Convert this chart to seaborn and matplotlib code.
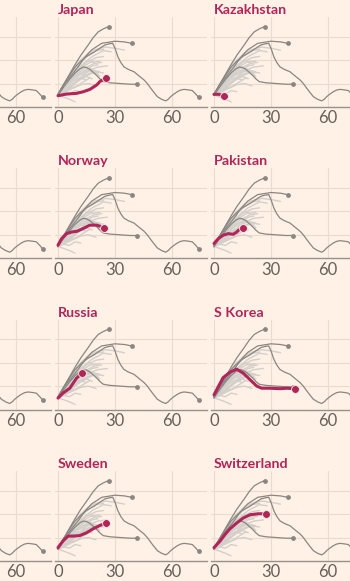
import matplotlib
matplotlib.use("Agg")
import matplotlib.pyplot as plt
import matplotlib.transforms as mtrans
import numpy as np
import pandas as pd
import seaborn as sns

# ---------------- data (days since start, log10 units) ----------------
# dark grey reference lines (drawn in every panel)
ref1_day = [0, 4, 8.8, 12, 15.9, 18.5, 21.2, 24, 26.6]
ref1_val = [0.55, 1.1, 1.78, 2.2, 2.64, 2.95, 3.2, 3.33, 3.42]
ref2_day = [0, 3, 6.5, 10.7, 14, 17.7, 23, 30, 35, 38.8]
ref2_val = [0.55, 0.95, 1.3, 1.72, 2.1, 2.43, 2.71, 2.8, 2.77, 2.71]
ref3_day = [0, 3, 6.3, 9, 11.6, 13.3, 15, 16.8, 18.5, 20.4, 22, 23.8, 27.4, 32.6, 37.9, 41.6]
ref3_val = [0.5, 0.85, 1.2, 1.45, 1.63, 1.7, 1.68, 1.6, 1.48, 1.34, 1.2, 1.08, 1.03, 1.0, 0.97, 0.97]
ref4_day = [0, 3, 6, 9, 12, 15, 19.3, 22, 24.7, 27, 28.8, 30, 31.5, 33, 34.7, 37, 40, 43, 45.3, 47,
            48.8, 50.5, 52.3, 54.5, 56.7, 58, 59.3, 61, 62.8, 64.5, 66.3, 68.5, 70.7, 72.5, 74]
ref4_val = [0.5, 0.95, 1.35, 1.7, 1.95, 2.15, 2.35, 2.5, 2.64, 2.69, 2.71, 2.5, 2.14, 1.9, 1.71, 1.6,
            1.5, 1.3, 1.15, 1.0, 0.8, 0.62, 0.44, 0.33, 0.26, 0.33, 0.44, 0.55, 0.65, 0.72, 0.75,
            0.73, 0.7, 0.55, 0.41]

# light grey lines (other countries)
g01_day = [0, 4, 8, 12, 16, 20, 25, 30, 35]
g01_val = [0.5, 1.1, 1.6, 2.0, 2.3, 2.45, 2.55, 2.5, 2.42]
g02_day = [0, 4, 8, 12, 16, 20, 24]
g02_val = [0.5, 1.05, 1.5, 1.9, 2.2, 2.4, 2.45]
g03_day = [0, 5, 10, 15, 20, 24]
g03_val = [0.5, 1.05, 1.55, 1.9, 2.1, 2.15]
g04_day = [0, 3, 7, 12, 17, 22]
g04_val = [0.5, 0.85, 1.25, 1.65, 1.9, 1.95]
g05_day = [0, 4, 8, 13, 18, 21]
g05_val = [0.5, 0.9, 1.25, 1.5, 1.75, 1.8]
g06_day = [0, 5, 10, 14, 19, 24]
g06_val = [0.5, 0.8, 1.1, 1.35, 1.5, 1.45]
g07_day = [0, 3, 7, 11, 15, 18]
g07_val = [0.5, 0.7, 0.95, 1.15, 1.3, 1.2]
g08_day = [0, 4, 8, 12, 16, 20]
g08_val = [0.5, 0.65, 0.8, 0.95, 1.0, 0.9]
g09_day = [0, 3, 6, 9]
g09_val = [0.5, 0.42, 0.33, 0.22]
g10_day = [0, 5, 9, 13, 16, 19]
g10_val = [0.5, 1.0, 1.4, 1.8, 2.0, 1.9]
g11_day = [0, 6, 11, 16, 21, 26]
g11_val = [0.5, 0.85, 1.2, 1.55, 1.7, 1.75]
g12_day = [0, 4, 9, 14, 18, 22]
g12_val = [0.5, 1.0, 1.45, 1.7, 1.6, 1.3]
g13_day = [0, 5, 10, 14, 17]
g13_val = [0.5, 0.75, 0.9, 1.1, 1.25]
g14_day = [0, 6, 12, 18, 24, 28]
g14_val = [0.5, 1.15, 1.75, 2.15, 2.4, 2.35]
g15_day = [0, 3, 6, 9, 12]
g15_val = [0.5, 0.6, 0.55, 0.7, 0.65]
g16_day = [0, 4, 9, 14, 19, 23]
g16_val = [0.5, 0.95, 1.35, 1.65, 1.85, 1.9]
g17_day = [0, 6, 12, 17, 22]
g17_val = [0.5, 1.0, 1.45, 1.6, 1.5]
g18_day = [0, 3, 7, 10, 14, 18, 21]
g18_val = [0.5, 0.8, 1.15, 1.3, 1.45, 1.55, 1.4]
g19_day = [0, 5, 9, 13, 17, 20]
g19_val = [0.5, 0.7, 1.0, 1.25, 1.4, 1.5]
g20_day = [0, 4, 8, 11, 15]
g20_val = [0.5, 0.85, 1.1, 1.25, 1.15]

# highlighted countries
japan_day = [0, 4.4, 9.7, 13.3, 16.8, 20.4, 22, 25.5]
japan_val = [0.48, 0.55, 0.58, 0.65, 0.75, 0.94, 1.08, 1.25]
kazakh_day = [0, 2.6, 5.3]
kazakh_val = [0.54, 0.54, 0.47]
norway_day = [0, 1.9, 4.5, 7.2, 10, 13.3, 16.7, 20.4, 22, 24.4]
norway_val = [0.56, 0.84, 1.05, 1.12, 1.15, 1.27, 1.41, 1.41, 1.37, 1.31]
pakistan_day = [0, 2.3, 4.8, 7.5, 10.1, 12, 13, 15.1]
pakistan_val = [0.63, 0.84, 0.98, 1.05, 1.02, 1.12, 1.2, 1.27]
russia_day = [0, 2.6, 6.2, 9.7, 12.8]
russia_val = [0.49, 0.7, 0.91, 1.33, 1.57]
skorea_day = [0, 2.3, 4.8, 8.4, 11.9, 15.4, 19, 22.5, 25.1, 29.5, 34.7, 38.3, 42.6]
skorea_val = [0.63, 0.98, 1.36, 1.59, 1.72, 1.55, 1.27, 1.0, 0.91, 0.91, 0.89, 0.91, 0.89]
sweden_day = [0, 2.6, 5.3, 7.9, 11.4, 15, 18.5, 22, 25.1]
sweden_val = [0.57, 0.85, 1.06, 1.06, 1.08, 1.2, 1.37, 1.51, 1.62]
swiss_day = [0, 3.2, 5.8, 8.4, 12, 15.4, 19, 23.3, 27.4]
swiss_val = [0.57, 0.85, 1.13, 1.37, 1.62, 1.83, 1.97, 2.01, 2.01]

mid_names = ["Japan", "Norway", "Russia", "Sweden"]
right_names = ["Kazakhstan", "Pakistan", "S Korea", "Switzerland"]
highlight = {
    "Japan": (japan_day, japan_val), "Kazakhstan": (kazakh_day, kazakh_val),
    "Norway": (norway_day, norway_val), "Pakistan": (pakistan_day, pakistan_val),
    "Russia": (russia_day, russia_val), "S Korea": (skorea_day, skorea_val),
    "Sweden": (sweden_day, sweden_val), "Switzerland": (swiss_day, swiss_val),
}
x_ticks = [0, 30, 60]
x_ticklabels = ["0", "30", "60"]

# ---------------- tables ----------------
def frame(pairs):
    rows = []
    for i, (d, v) in enumerate(pairs):
        for a, b in zip(d, v):
            rows.append((i, a, b))
    return pd.DataFrame(rows, columns=["line", "day", "val"])

light_df = frame([(g01_day, g01_val), (g02_day, g02_val), (g03_day, g03_val), (g04_day, g04_val),
                  (g05_day, g05_val), (g06_day, g06_val), (g07_day, g07_val), (g08_day, g08_val),
                  (g09_day, g09_val), (g10_day, g10_val), (g11_day, g11_val), (g12_day, g12_val),
                  (g13_day, g13_val), (g14_day, g14_val), (g15_day, g15_val), (g16_day, g16_val),
                  (g17_day, g17_val), (g18_day, g18_val), (g19_day, g19_val), (g20_day, g20_val)])
ref_pairs = [(ref1_day, ref1_val), (ref2_day, ref2_val), (ref3_day, ref3_val), (ref4_day, ref4_val)]
dark_df = frame(ref_pairs)
dark_end = pd.DataFrame({"day": [p[0][-1] for p in ref_pairs], "val": [p[1][-1] for p in ref_pairs]})

# ---------------- style ----------------
sns.set_theme(style="white")
BG = "#fff1e5"
LIGHT = "#d3cfca"
DARK = "#8a8681"
CRIMSON = "#b0265a"
GRID = "#e9dccf"
plt.rcParams["font.family"] = ["Lato", "DejaVu Sans"]

W, H = 350, 581
fig = plt.figure(figsize=(W / 100, H / 100), dpi=100, facecolor=BG)

x0_px = [-98, 58, 214]
baselines = [107, 258.3, 409.6, 561]
XMIN, XMAX = -1.6, 78.4
PPU = 1.9
panel_w = (XMAX - XMIN) * PPU
panel_h = 90

for r in range(4):
    for c in range(3):
        left = x0_px[c] + XMIN * PPU
        bottom = H - baselines[r]
        ax = fig.add_axes([left / W, bottom / H, panel_w / W, panel_h / H])
        ax.set_facecolor(BG)
        ax.set_axisbelow(True)
        name = None
        if c == 1:
            name = mid_names[r]
        elif c == 2:
            name = right_names[r]

        sns.lineplot(data=light_df, x="day", y="val", units="line", estimator=None, sort=False,
                     color=LIGHT, lw=1.0, ax=ax, legend=False)
        sns.lineplot(data=dark_df, x="day", y="val", units="line", estimator=None, sort=False,
                     color=DARK, lw=0.9, ax=ax, legend=False)
        sns.scatterplot(data=dark_end, x="day", y="val", color=DARK, s=12, linewidth=0,
                        ax=ax, legend=False, zorder=4)
        if name is not None:
            d, v = highlight[name]
            hdf = pd.DataFrame({"day": d, "val": v})
            sns.lineplot(data=hdf, x="day", y="val", sort=False, color=CRIMSON, lw=2.2,
                         ax=ax, legend=False, zorder=5)
            sns.scatterplot(data=hdf.iloc[[-1]], x="day", y="val", color=CRIMSON, s=32,
                            edgecolor=BG, linewidth=0.6, ax=ax, legend=False, zorder=6)
            tr = mtrans.blended_transform_factory(ax.transData, ax.transAxes)
            ax.text(0, 1.078, name, transform=tr, ha="left", va="center", fontsize=10.3,
                    fontweight="bold", color=CRIMSON)

        ax.set_xlim(XMIN, XMAX)
        ax.set_ylim(0, 3.83)
        ax.set_xticks(x_ticks)
        if c == 0:
            # only the last label of the cropped left column is inside the picture
            ax.set_xticklabels(["", "", x_ticklabels[2]])
        else:
            ax.set_xticklabels(x_ticklabels)
        ax.set_yticks([1, 2, 3])
        ax.set_yticklabels([])
        ax.tick_params(axis="x", length=0, pad=2.5, labelsize=12, labelcolor="#66605b")
        ax.tick_params(axis="y", length=0)
        ax.grid(True, color=GRID, lw=0.8)
        ax.set_xlabel("")
        ax.set_ylabel("")
        for s in ["top", "left", "right"]:
            ax.spines[s].set_visible(False)
        ax.spines["bottom"].set_color("#97918b")
        ax.spines["bottom"].set_linewidth(1.0)

fig.savefig("out.png", dpi=100, facecolor=BG)
